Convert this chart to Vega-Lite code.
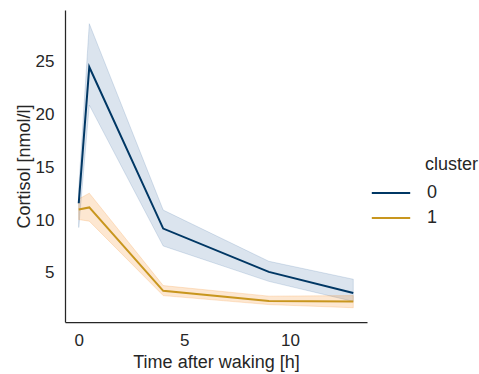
{
  "$schema": "https://vega.github.io/schema/vega-lite/v6.json",
  "width": 302,
  "height": 312,
  "autosize": {"type": "none"},
  "padding": {"left": 65, "top": 10, "right": 112, "bottom": 52},
  "background": "white",
  "config": {
    "view": {"stroke": null},
    "font": "Liberation Sans",
    "axis": {
      "grid": false,
      "ticks": false,
      "tickSize": 0,
      "domainColor": "#262626",
      "domainWidth": 1.25,
      "labelColor": "#262626",
      "labelFont": "Liberation Sans",
      "labelFontSize": 17,
      "titleColor": "#262626",
      "titleFont": "Liberation Sans",
      "titleFontSize": 18,
      "titleFontWeight": "normal"
    },
    "legend": {
      "labelFont": "Liberation Sans",
      "titleFont": "Liberation Sans",
      "labelColor": "#262626",
      "titleColor": "#262626",
      "labelFontSize": 18,
      "titleFontSize": 18,
      "titleFontWeight": "normal"
    }
  },
  "data": {
    "values": [
      {"cluster": "0", "t": 0, "mean": 11.6, "lo": 9.3, "hi": 13.0},
      {"cluster": "0", "t": 0.5, "mean": 24.5, "lo": 20.9, "hi": 28.6},
      {"cluster": "0", "t": 4, "mean": 9.2, "lo": 7.55, "hi": 10.95},
      {"cluster": "0", "t": 9, "mean": 5.1, "lo": 4.2, "hi": 6.1},
      {"cluster": "0", "t": 13, "mean": 3.1, "lo": 2.3, "hi": 4.4},
      {"cluster": "1", "t": 0, "mean": 11.0, "lo": 10.05, "hi": 12.0},
      {"cluster": "1", "t": 0.5, "mean": 11.2, "lo": 9.9, "hi": 12.55},
      {"cluster": "1", "t": 4, "mean": 3.3, "lo": 2.85, "hi": 3.8},
      {"cluster": "1", "t": 9, "mean": 2.35, "lo": 2.0, "hi": 2.8},
      {"cluster": "1", "t": 13, "mean": 2.3, "lo": 1.7, "hi": 2.85}
    ]
  },
  "encoding": {
    "x": {
      "field": "t",
      "type": "quantitative",
      "title": "Time after waking [h]",
      "scale": {"domain": [-0.65, 13.65], "nice": false, "zero": false},
      "axis": {"values": [0, 5, 10], "labelPadding": 10, "titleY": 40, "titleBaseline": "middle"}
    },
    "color": {
      "field": "cluster",
      "type": "nominal",
      "scale": {"domain": ["0", "1"], "range": ["#003764", "#c8961e"]}
    }
  },
  "layer": [
    {
      "mark": {"type": "area", "fillOpacity": 0.2, "strokeOpacity": 0.2, "strokeWidth": 1},
      "encoding": {
        "y": {
          "field": "lo",
          "type": "quantitative",
          "title": "Cortisol [nmol/l]",
          "scale": {"domain": [0.35, 29.9], "nice": false, "zero": false},
          "axis": {"values": [5, 10, 15, 20, 25], "labelPadding": 11, "titleX": -41, "titleBaseline": "middle"}
        },
        "y2": {"field": "hi"},
        "fill": {"field": "cluster", "type": "nominal", "legend": null},
        "stroke": {"field": "cluster", "type": "nominal", "legend": null}
      }
    },
    {
      "mark": {"type": "line", "strokeWidth": 2},
      "encoding": {
        "y": {"field": "mean", "type": "quantitative"},
        "color": {
          "field": "cluster",
          "type": "nominal",
          "legend": {
            "orient": "none",
            "legendX": 360,
            "legendY": 146,
            "padding": 0,
            "title": "cluster",
            "titlePadding": 6,
            "symbolType": "M-1.6,0H1.6",
            "symbolSize": 576,
            "symbolStrokeWidth": 2,
            "symbolOffset": -47,
            "labelOffset": 23,
            "rowPadding": 3
          }
        }
      }
    }
  ]
}
